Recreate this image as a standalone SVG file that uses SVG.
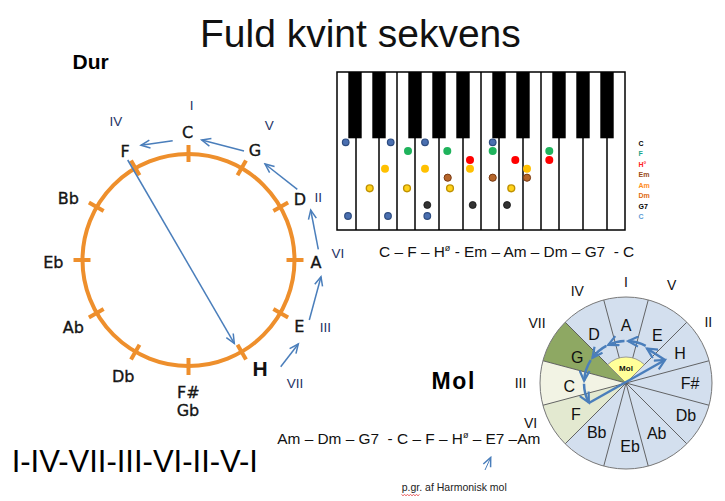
<svg xmlns="http://www.w3.org/2000/svg" width="725" height="501" viewBox="0 0 725 501">
<style>
text{font-family:"Liberation Sans",Arial,sans-serif;}
.ttl{font-size:39px;fill:#111;}
.hd{font-size:21px;font-weight:bold;fill:#000;}
.rn{font-size:13.5px;fill:#1f3466;text-anchor:middle;}
.rm{font-size:14px;fill:#111;text-anchor:middle;}
.hw{font-family:"DejaVu Sans",sans-serif;font-size:16px;fill:#151515;stroke:#151515;stroke-width:0.35;text-anchor:middle;}
.ml{font-size:16px;fill:#111;text-anchor:middle;}
.ch{font-size:15.4px;fill:#111;}
.lg{font-size:7px;font-weight:bold;}
.ring{fill:none;stroke:#ee8f2c;stroke-width:4;}
.tick{stroke:#ee8f2c;stroke-width:4;}
.arD{fill:none;stroke:#4a7ebb;stroke-width:1.5;marker-end:url(#aD);}
.arM{fill:none;stroke:#4a7ebb;stroke-width:2.5;marker-end:url(#aM);}
.wk{stroke:#000;stroke-width:1.5;}
.bk{fill:#000;}
.dC{fill:#4a6fb0;stroke:#2d4c80;stroke-width:1.2;}
.dF{fill:#1fb35c;}
.dH{fill:#ff0000;}
.dE{fill:#ffc000;}
.dA{fill:#b5652a;stroke:#7a3a12;stroke-width:1;}
.dD{fill:#ffd21a;stroke:#c09200;stroke-width:1.4;}
.dG{fill:#333;stroke:#111;stroke-width:0.8;}
.sec{fill:#d3dfee;}
.div{stroke:#555;stroke-width:0.9;}
</style>
<defs>
<marker id="aD" markerUnits="userSpaceOnUse" viewBox="0 0 12 10" markerWidth="12" markerHeight="10" refX="10" refY="5" orient="auto"><path d="M1,1 L10,5 L1,9" fill="none" stroke="#4a7ebb" stroke-width="1.5"/></marker>
<marker id="aM" markerUnits="userSpaceOnUse" viewBox="0 0 14 12" markerWidth="14" markerHeight="12" refX="11" refY="6" orient="auto"><path d="M1,1 L11,6 L1,11" fill="none" stroke="#4a7ebb" stroke-width="2.2"/></marker>
<line id="tk" class="tick" x1="0" y1="-98" x2="0" y2="-115"/>
</defs>

<text class="ttl" x="200" y="47">Fuld kvint sekvens</text>
<text class="hd" x="72.5" y="69">Dur</text>

<g id="dur-circle">
<circle class="ring" cx="188.5" cy="260" r="106"/>
<g transform="translate(188.5,260)">
<use href="#tk"/><use href="#tk" transform="rotate(30)"/><use href="#tk" transform="rotate(60)"/><use href="#tk" transform="rotate(90)"/><use href="#tk" transform="rotate(120)"/><use href="#tk" transform="rotate(150)"/><use href="#tk" transform="rotate(180)"/><use href="#tk" transform="rotate(210)"/><use href="#tk" transform="rotate(240)"/><use href="#tk" transform="rotate(270)"/><use href="#tk" transform="rotate(300)"/><use href="#tk" transform="rotate(330)"/>
</g>
</g>
<g id="dur-labels">
<text class="hw" x="187.7" y="138">C</text>
<text class="hw" x="255" y="155.5">G</text>
<text class="hw" x="300" y="204.5">D</text>
<text class="hw" x="316" y="268">A</text>
<text class="hw" x="299.3" y="331.5">E</text>
<text x="260" y="376" style="font-size:21px;font-weight:bold;text-anchor:middle;fill:#111">H</text>
<text class="hw" x="188.3" y="398">F#</text>
<text class="hw" x="188" y="415.5">Gb</text>
<text class="hw" x="123.3" y="381.5">Db</text>
<text class="hw" x="73.3" y="333">Ab</text>
<text class="hw" x="53.3" y="268">Eb</text>
<text class="hw" x="68.3" y="203.5">Bb</text>
<text class="hw" x="125" y="156.5">F</text>
</g>
<g id="dur-numerals">
<text class="rn" x="191.7" y="110">I</text>
<text class="rn" x="116" y="125.5">IV</text>
<text class="rn" x="269.3" y="130">V</text>
<text class="rn" x="318.3" y="201.5">II</text>
<text class="rn" x="338" y="257.5">VI</text>
<text class="rn" x="325.5" y="332">III</text>
<text class="rn" x="295" y="388">VII</text>
</g>
<g id="dur-connectors">
<line class="arD" x1="172.7" y1="140.7" x2="141" y2="145.3"/>
<line class="arD" x1="244" y1="151" x2="201.7" y2="140"/>
<line class="arD" x1="297.3" y1="189.3" x2="265" y2="164"/>
<line class="arD" x1="318.3" y1="249.3" x2="310.7" y2="210"/>
<line class="arD" x1="309.3" y1="320" x2="321" y2="276.7"/>
<line class="arD" x1="280.7" y1="366.7" x2="298.3" y2="344"/>
<line class="arD" x1="127.7" y1="160" x2="234.3" y2="343.3"/>
</g>

<g id="keyboard">
<rect x="337" y="72" width="288" height="158" fill="#fff" class="wk"/>
<g class="wk">
<line x1="356" y1="72" x2="356" y2="230"/><line x1="379" y1="72" x2="379" y2="230"/><line x1="397" y1="72" x2="397" y2="230"/><line x1="415" y1="72" x2="415" y2="230"/><line x1="439" y1="72" x2="439" y2="230"/><line x1="463" y1="72" x2="463" y2="230"/><line x1="481" y1="72" x2="481" y2="230"/><line x1="499" y1="72" x2="499" y2="230"/><line x1="523" y1="72" x2="523" y2="230"/><line x1="541" y1="72" x2="541" y2="230"/><line x1="559" y1="72" x2="559" y2="230"/><line x1="583" y1="72" x2="583" y2="230"/><line x1="607" y1="72" x2="607" y2="230"/>
</g>
<g class="bk">
<rect x="348.3" y="72" width="13.4" height="66.3"/><rect x="372.3" y="72" width="13.4" height="66.3"/><rect x="408.3" y="72" width="13.4" height="66.3"/><rect x="432.3" y="72" width="13.4" height="66.3"/><rect x="456.3" y="72" width="13.4" height="66.3"/><rect x="492.3" y="72" width="13.4" height="66.3"/><rect x="516.3" y="72" width="13.4" height="66.3"/><rect x="552.3" y="72" width="13.4" height="66.3"/><rect x="576.3" y="72" width="13.4" height="66.3"/><rect x="600.3" y="72" width="13.4" height="66.3"/>
</g>
<g id="dots">
<circle class="dC" cx="345.7" cy="142.3" r="3.3"/><circle class="dC" cx="390.7" cy="142.3" r="3.3"/><circle class="dC" cx="425" cy="142.3" r="3.3"/><circle class="dC" cx="492.7" cy="142.3" r="3.3"/>
<circle class="dF" cx="408" cy="151" r="4"/><circle class="dF" cx="447.3" cy="151" r="4"/><circle class="dF" cx="492.7" cy="151" r="4"/><circle class="dF" cx="549.3" cy="151" r="4"/>
<circle class="dH" cx="470" cy="160" r="4"/><circle class="dH" cx="515.3" cy="160" r="4"/><circle class="dH" cx="549.3" cy="160" r="4"/>
<circle class="dE" cx="385" cy="168.7" r="4"/><circle class="dE" cx="425" cy="168.7" r="4"/><circle class="dE" cx="470" cy="168.7" r="4"/><circle class="dE" cx="527" cy="168.7" r="4"/>
<circle class="dA" cx="447.7" cy="177.7" r="3.6"/><circle class="dA" cx="492.7" cy="177.7" r="3.6"/><circle class="dA" cx="527" cy="177.7" r="3.6"/>
<circle class="dD" cx="369.7" cy="188.3" r="3.4"/><circle class="dD" cx="407" cy="188.3" r="3.4"/><circle class="dD" cx="450" cy="188.3" r="3.4"/><circle class="dD" cx="511.3" cy="188.3" r="3.4"/>
<circle class="dG" cx="427.3" cy="205" r="3.5"/><circle class="dG" cx="472.7" cy="205" r="3.5"/><circle class="dG" cx="507" cy="205" r="3.5"/>
<circle class="dC" cx="348" cy="216" r="3.3"/><circle class="dC" cx="388" cy="216" r="3.3"/><circle class="dC" cx="427.3" cy="216" r="3.3"/>
</g>
</g>
<g id="legend">
<text class="lg" x="638.5" y="145.5" fill="#000">C</text>
<text class="lg" x="638.5" y="156" fill="#1aa58a">F</text>
<text class="lg" x="638.5" y="166.5" fill="#ff2020">H°</text>
<text class="lg" x="638.5" y="177" fill="#9a4a14">Em</text>
<text class="lg" x="638.5" y="187.5" fill="#ff8c1a">Am</text>
<text class="lg" x="638.5" y="198" fill="#e06a10">Dm</text>
<text class="lg" x="638.5" y="208.5" fill="#000">G7</text>
<text class="lg" x="638.5" y="219" fill="#5b9bd5">C</text>
</g>
<text class="ch" x="379" y="257" xml:space="preserve">C – F – H<tspan font-size="9" dy="-6">ø</tspan><tspan dy="6"> - Em – Am – Dm – G7  - C</tspan></text>

<g id="mol-circle">
<circle class="sec" cx="626" cy="383" r="86"/>
<path d="M626,383 L542.93,360.74 A86,86 0 0 1 565.19,322.19 Z" fill="#8ea863"/>
<path d="M626,383 L542.93,405.26 A86,86 0 0 1 542.93,360.74 Z" fill="#f2f3e4"/>
<path d="M626,383 L565.19,443.81 A86,86 0 0 1 542.93,405.26 Z" fill="#e3e9d0"/>
<g class="div">
<line x1="626" y1="383" x2="648.26" y2="299.93"/><line x1="626" y1="383" x2="686.81" y2="322.19"/><line x1="626" y1="383" x2="709.07" y2="360.74"/><line x1="626" y1="383" x2="709.07" y2="405.26"/><line x1="626" y1="383" x2="686.81" y2="443.81"/><line x1="626" y1="383" x2="648.26" y2="466.07"/><line x1="626" y1="383" x2="603.74" y2="466.07"/><line x1="626" y1="383" x2="565.19" y2="443.81"/><line x1="626" y1="383" x2="542.93" y2="405.26"/><line x1="626" y1="383" x2="542.93" y2="360.74"/><line x1="626" y1="383" x2="565.19" y2="322.19"/><line x1="626" y1="383" x2="603.74" y2="299.93"/>
</g>
<circle cx="626" cy="383" r="86" fill="none" stroke="#777" stroke-width="1"/>
<path d="M626,383 L607.62,364.62 A26,26 0 0 1 644.38,364.62 Z" fill="#ffff99" stroke="#888" stroke-width="0.8"/>
<text x="626" y="371" style="font-size:8px;font-weight:bold;text-anchor:middle;fill:#111">Mol</text>
</g>
<g id="mol-labels">
<text class="ml" x="626" y="330.5">A</text>
<text class="ml" x="657.3" y="340.5">E</text>
<text class="ml" x="680" y="359">H</text>
<text class="ml" x="690" y="389">F#</text>
<text class="ml" x="686" y="420.5">Db</text>
<text class="ml" x="656.7" y="439">Ab</text>
<text class="ml" x="630" y="452">Eb</text>
<text class="ml" x="596.7" y="438">Bb</text>
<text class="ml" x="576" y="420">F</text>
<text class="ml" x="569.3" y="392">C</text>
<text class="ml" x="577.3" y="363">G</text>
<text class="ml" x="594" y="339.5">D</text>
</g>
<g id="mol-numerals">
<text class="rm" x="626" y="286.5">I</text>
<text class="rm" x="671.7" y="290">V</text>
<text class="rm" x="708.3" y="326.5">II</text>
<text class="rm" x="577.3" y="295.5">IV</text>
<text class="rm" x="537" y="327.5">VII</text>
<text class="rm" x="520.5" y="388">III</text>
<text class="rm" x="530.5" y="428">VI</text>
</g>
<g id="mol-connectors">
<path class="arM" d="M645.7,345.9 A42,42 0 0 0 628.2,341.1"/>
<path class="arM" d="M624.5,341 A42,42 0 0 0 608.3,344.9"/>
<path class="arM" d="M606.3,345.9 A42,42 0 0 0 592.5,357.7"/>
<path class="arM" d="M590.8,360.1 A42,42 0 0 0 584.1,380.8"/>
<path class="arM" d="M584,383.7 A42,42 0 0 0 588.9,402.7"/>
<line class="arM" x1="588.9" y1="403" x2="665" y2="360"/>
<line class="arM" x1="665" y1="360" x2="647" y2="348.5"/>
</g>

<text class="hd" x="431.5" y="389" style="font-size:23px" textLength="43">Mol</text>
<text class="ch" x="277.3" y="444" xml:space="preserve">Am – Dm – G7  - C – F – H<tspan font-size="9" dy="-6">ø</tspan><tspan dy="6"> – E7 –Am</tspan></text>
<text x="11.7" y="471.7" style="font-size:31px;fill:#000">I-IV-VII-III-VI-II-V-I</text>
<text x="401.7" y="491" style="font-size:10.5px;fill:#222">p.gr. af Harmonisk mol</text>
<path d="M401.5,494.5 l1.5,1.2 l1.5,-1.2 l1.5,1.2 l1.5,-1.2 l1.5,1.2 l1.5,-1.2 l1.5,1.2 l1.5,-1.2 l1.5,1.2 l1.5,-1.2 l1.5,1.2 l1.5,-1.2" fill="none" stroke="#e02020" stroke-width="0.7"/>
<line x1="485" y1="470" x2="490.7" y2="457.5" stroke="#4a7ebb" stroke-width="1" marker-end="url(#aD)"/>
</svg>
